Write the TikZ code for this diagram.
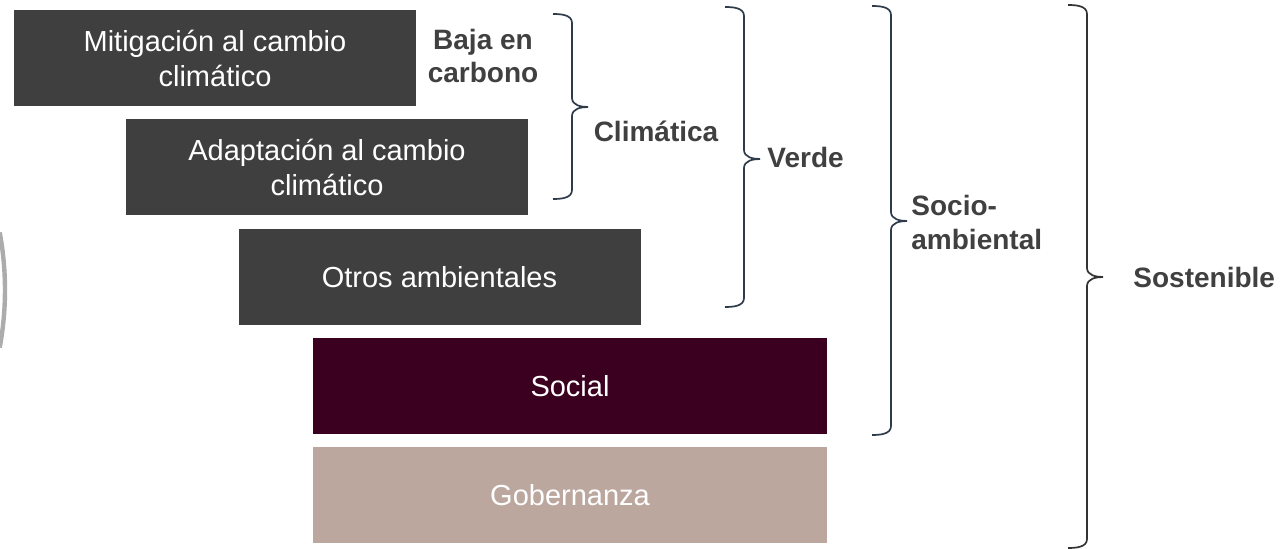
\documentclass[tikz,border=0pt]{standalone}
\usepackage{fontspec}
\setmainfont{Liberation Sans}
\definecolor{grisoscuro}{HTML}{3F3F3F}
\definecolor{vino}{HTML}{3B0020}
\definecolor{rosagris}{HTML}{BCA79F}
\definecolor{textogris}{HTML}{404040}
\definecolor{llave}{HTML}{2E3B4A}
% llave: x de los extremos, arriba, punta, abajo
\newcommand{\llave}[5][]{%
  \draw[llaves, #1] (#2,#3) to[out=0,in=90] (#2+19,#3+9) -- (#2+19,#4-9)
    to[out=-90,in=180] (#2+35,#4) to[out=180,in=90] (#2+19,#4+9)
    -- (#2+19,#5-9) to[out=-90,in=0] (#2,#5);}

\begin{document}
\begin{tikzpicture}[x=0.5pt, y=-0.5pt,
    caja/.style={rectangle, inner sep=0pt, minimum height=48pt, text=white, align=center,
      font=\fontsize{14.5}{17.5}\selectfont},
    etiqueta/.style={text=textogris, align=left, inner sep=0pt,
      font=\bfseries\fontsize{14}{17}\selectfont},
    llaves/.style={draw=llave, line width=0.85pt}]
	\useasboundingbox (0,0) rectangle (1286,549);
	\draw[gray!65, line width=2.2pt] (-311,290) ++(-10.5:316) arc (-10.5:10.5:316);
	\node[caja, fill=grisoscuro, minimum width=201pt] (mitigacion) at (215,58) {Mitigación al cambio\\climático};
	\node[caja, fill=grisoscuro, minimum width=201pt] (adaptacion) at (327,167) {Adaptación al cambio\\climático};
	\node[caja, fill=grisoscuro, minimum width=201pt] (otros) at (439.5,277) {Otros ambientales};
	\node[caja, fill=vino, minimum width=257pt] (social) at (570,386) {Social};
	\node[caja, fill=rosagris, minimum width=257pt] (gobernanza) at (570,495.5) {Gobernanza};
	\llave{553}{14}{107}{199}
	\llave{725}{7}{159}{307}
	\llave{872}{6}{221}{435}
	\llave[draw=black!80]{1068}{5}{277}{548}
	\node[etiqueta, align=center] (baja) at (483,56) {Baja en\\carbono};
	\node[etiqueta] (climatica) at (656,131) {Climática};
	\node[etiqueta, anchor=west] (verde) at (767,157) {Verde};
	\node[etiqueta, anchor=west] (socio) at (911,222) {Socio-\\ambiental};
	\node[etiqueta, anchor=west] (sostenible) at (1133,277) {Sostenible};
\end{tikzpicture}
\end{document}
